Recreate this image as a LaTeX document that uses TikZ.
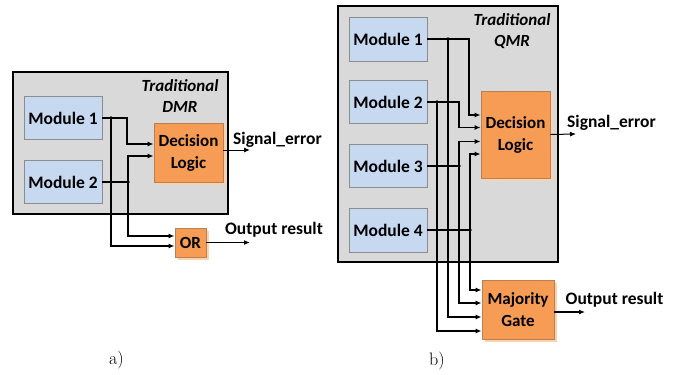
\documentclass[tikz,border=0pt]{standalone}
\usepackage{fontspec}
\setsansfont{Carlito}
\usetikzlibrary{arrows.meta,shadows,positioning}

\definecolor{boxgray}{HTML}{D9D9D9}
\definecolor{modblue}{HTML}{C6D9F1}
\definecolor{modedge}{HTML}{8C8C8C}
\definecolor{logicor}{HTML}{F69C55}
\definecolor{logicedge}{HTML}{B98055}
\definecolor{shadeor}{HTML}{FAD2AE}

\tikzset{
  panel/.style={draw=black, fill=boxgray, line width=1.1pt},
  tag/.style={font=\sffamily\bfseries\itshape\fontsize{17}{21}\selectfont, align=center},
  module/.style={draw=modedge, fill=modblue, line width=0.9pt, minimum width=78pt,
    minimum height=43pt, font=\sffamily\bfseries\fontsize{17.5}{21}\selectfont},
  logic/.style={draw=logicedge, fill=logicor, line width=0.9pt, align=center,
    font=\sffamily\bfseries\fontsize{17}{22}\selectfont,
    drop shadow={shadow xshift=2.5pt, shadow yshift=-2.5pt, fill=shadeor, opacity=1}},
  label/.style={font=\sffamily\bfseries\fontsize{17.5}{20}\selectfont},
  wire/.style={line width=1.5pt, -{Latex[length=6pt,width=5pt]}},
  thinwire/.style={line width=1pt, -{Latex[length=6pt,width=5pt]}},
  sub/.style={font=\fontsize{18}{20}\selectfont}
}

\begin{document}
\begin{tikzpicture}[x=1pt, y=-1pt]
\useasboundingbox (0,0) rectangle (675,375);

% ---- a) DMR ----
\draw[panel] (13,72) rectangle (228,214);
\node[tag] (tda) at (180,96) {Traditional\\DMR};

\node[module] (m1a) at (63,118) {Module 1};
\node[module] (m2a) at (63,182) {Module 2};
\node[logic, minimum width=69pt, minimum height=59pt] (dla) at (188.5,152.5) {Decision\\Logic};
\node[logic, minimum width=31pt, minimum height=29pt] (ora) at (190.5,242.5) {OR};

\coordinate (a1) at (111,118);
\coordinate (a2) at (128,182);
\coordinate (a1b) at (127,118);
\coordinate (sea) at (250,150);
\coordinate (ora2) at (250,242.5);

\draw[wire] (m1a.east) -- (a1) -- (a1b) |- ([yshift=8.5pt]dla.west);
\draw[wire] (m2a.east) -- (a2) |- ([yshift=-3.5pt]dla.west);
\draw[wire] (a1) |- ([yshift=-3.5pt]ora.west);
\draw[wire] (a2) |- ([yshift=6.5pt]ora.west);
\fill (a1) circle (1.8);
\fill (a2) circle (1.8);

\draw[thinwire] ([yshift=2.5pt]dla.east) -- (sea);
\draw[wire] (ora.east) -- (ora2);
\node[label] (sga) at (277.5,140) {Signal\_error};
\node[label] (ora3) at (274,230) {Output result};

\node[sub] (cap_a) at (116.5,360) {a)};

% ---- b) QMR ----
\draw[panel] (338,6) rectangle (558,262);
\node[tag] (tdb) at (512,31.5) {Traditional\\QMR};

\node[module, minimum height=44pt] (m1b) at (388,39) {Module 1};
\node[module] (m2b) at (388,102) {Module 2};
\node[module] (m3b) at (388,166) {Module 3};
\node[module, minimum height=44pt] (m4b) at (388,230) {Module 4};
\node[logic, minimum width=69pt, minimum height=87pt] (dlb) at (515.5,134.5) {Decision\\Logic};
\node[logic, minimum width=72pt, minimum height=59pt] (mgb) at (518,309.5) {Majority\\Gate};

\coordinate (b1) at (448,39);
\coordinate (b2) at (437,102);
\coordinate (b3) at (459,166);
\coordinate (b4) at (470,230);
\coordinate (b1b) at (469,39);
\coordinate (b2b) at (459,102);
\coordinate (seb) at (576,134);
\coordinate (mgout) at (585,312);

% into the decision logic
\draw[wire] (m1b.east) -- (b1) -- (b1b) |- ([yshift=19.5pt]dlb.west);
\draw[wire] (m2b.east) -- (b2) -- (b2b) |- ([yshift=7pt]dlb.west);
\draw[wire] (m3b.east) -- (b3) |- ([yshift=-7pt]dlb.west);
\draw[wire] (m4b.east) -- (b4) |- ([yshift=-19.5pt]dlb.west);

% into the majority gate
\draw[wire] (b4) |- ([yshift=19.5pt]mgb.west);
\draw[wire] (b3) |- ([yshift=6.5pt]mgb.west);
\draw[wire] (b1) |- ([yshift=-7.5pt]mgb.west);
\draw[wire] (b2) |- ([yshift=-21.5pt]mgb.west);

\foreach \p in {b1,b2,b3,b4}
  \fill (\p) circle (1.8);

\draw[thinwire] (dlb.east) -- (seb);
\draw[wire] ([yshift=-2.5pt]mgb.east) -- (mgout);
\node[label] (sgb) at (611.5,123) {Signal\_error};
\node[label] (mgo) at (614.5,300) {Output result};

\node[sub] (cap_b) at (437,361) {b)};
\end{tikzpicture}
\end{document}
